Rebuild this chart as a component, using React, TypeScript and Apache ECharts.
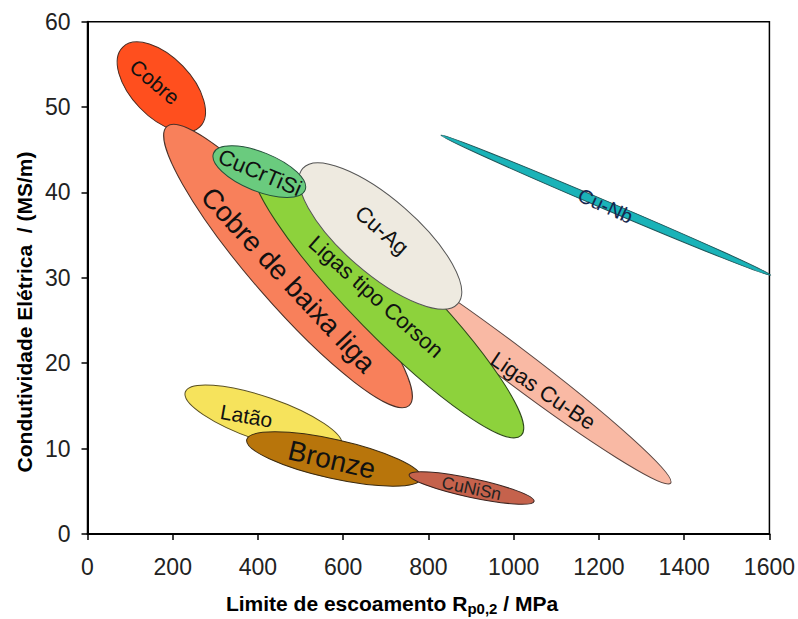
import React, { useEffect, useRef } from 'react';
import * as echarts from 'echarts';

const FONT = "'Liberation Sans', Arial, Helvetica, sans-serif";

// Material families, listed from the one drawn at the bottom to the one drawn on top
const materials = [
  'Ligas Cu-Be',
  'Cobre',
  'Cobre de baixa liga',
  'Ligas tipo Corson',
  'Cu-Ag',
  'CuCrTiSi',
  'Latão',
  'Bronze',
  'CuNiSn',
  'Cu-Nb',
];

// Ends of each ellipse's long axis: yield strength (MPa) and conductivity (MS/m)
const strengthStart = [620.6, 82.9, 186.3, 394.0, 505.2, 295.7, 229.4, 373.6, 754.7, 829.1];
const conductStart = [34.16, 57.03, 47.74, 43.28, 42.82, 44.6, 16.63, 11.06, 6.95, 46.73];
const strengthEnd = [1368.3, 263.6, 754.7, 1017.6, 868.9, 510.6, 596.9, 782.8, 1047.8, 1603];
const conductEnd = [5.97, 47.68, 15.04, 11.54, 26.98, 40.27, 10.31, 6.51, 3.83, 30.3];
// Short axis / long axis
const widthRatio = [0.088, 0.54, 0.2, 0.189, 0.36, 0.394, 0.265, 0.218, 0.148, 0.023];

// Where each label sits (data space)
const labelStrength = [1069.1, 158.0, 471.2, 677.0, 690.8, 405.0, 372.7, 573.5, 901.2, 1215.4];
const labelConduct = [16.77, 52.95, 29.75, 27.79, 35.58, 42.33, 13.84, 8.69, 5.35, 38.44];

// Axis ticks
const xTickLabels = ['0', '200', '400', '600', '800', '1000', '1200', '1400', '1600'];
const yTickLabels = ['0', '10', '20', '30', '40', '50', '60'];

// Styles
const fillColors = [
  '#F9B9A4', '#FF4F1E', '#F8805B', '#8DD23C', '#EEEAE0',
  '#6ACB7E', '#F6E35C', '#B8750B', '#C5624C', '#1AB3B8',
];
const strokeColors = [
  '#5a4540', '#4a2a20', '#4a3028', '#2e4a1a', '#555555',
  '#24503a', '#5a5020', '#3a2a10', '#3a2420', '#1f5558',
];
const labelFontSize = [22, 21, 28, 22, 22, 22, 21, 28, 17.5, 20];
const labelRotationDeg = [34, 40, 47, 41.5, 41, 23, 10, 13, 11.7, 24.5];
const labelColors = ['#111', '#111', '#111', '#111', '#111', '#111', '#111', '#111', '#222', '#16264f'];

const xMin = Number(xTickLabels[0]);
const xMax = Number(xTickLabels[xTickLabels.length - 1]);
const xStep = Number(xTickLabels[1]) - xMin;
const yMin = Number(yTickLabels[0]);
const yMax = Number(yTickLabels[yTickLabels.length - 1]);
const yStep = Number(yTickLabels[1]) - yMin;

export default function App() {
  const ref = useRef<HTMLDivElement>(null);

  useEffect(() => {
    if (!ref.current) return;
    const chart = echarts.init(ref.current, undefined, { renderer: 'svg' });

    const ellipseData = materials.map((_, i) => [
      strengthStart[i], conductStart[i], strengthEnd[i], conductEnd[i], widthRatio[i],
    ]);
    const labelData = materials.map((_, i) => [labelStrength[i], labelConduct[i]]);

    const option: any = {
      animation: false,
      backgroundColor: '#ffffff',
      grid: {
        left: 87.5,
        right: 27,
        top: 21.7,
        bottom: 85,
        show: true,
        borderColor: '#000',
        borderWidth: 1.5,
        backgroundColor: 'transparent',
      },
      xAxis: {
        type: 'value',
        min: xMin,
        max: xMax,
        interval: xStep,
        axisLine: { show: true, onZero: false, lineStyle: { color: '#000', width: 2 } },
        axisTick: { show: true, inside: false, length: 6, lineStyle: { color: '#000', width: 1.5 } },
        axisLabel: {
          fontSize: 23,
          color: '#222',
          fontFamily: FONT,
          margin: 21,
          formatter: (v: number) => xTickLabels.find((t) => Number(t) === v) ?? String(v),
        },
        splitLine: { show: false },
      },
      yAxis: {
        type: 'value',
        min: yMin,
        max: yMax,
        interval: yStep,
        axisLine: { show: true, onZero: false, lineStyle: { color: '#000', width: 2 } },
        axisTick: { show: true, inside: false, length: 6, lineStyle: { color: '#000', width: 1.5 } },
        axisLabel: {
          fontSize: 23,
          color: '#222',
          fontFamily: FONT,
          margin: 17,
          formatter: (v: number) => yTickLabels.find((t) => Number(t) === v) ?? String(v),
        },
        splitLine: { show: false },
      },
      graphic: [
        {
          type: 'text',
          x: 392,
          y: 603,
          style: {
            text: '{m|Limite de escoamento R}{s|p0,2}{m| / MPa}',
            align: 'center',
            verticalAlign: 'middle',
            textAlign: 'center',
            textVerticalAlign: 'middle',
            fill: '#000',
            rich: {
              m: { fontSize: 21, fontWeight: 'bold', fontFamily: FONT, lineHeight: 26, fill: '#000', color: '#000', verticalAlign: 'middle' },
              s: { fontSize: 15, fontWeight: 'bold', fontFamily: FONT, lineHeight: 12, fill: '#000', color: '#000', verticalAlign: 'bottom' },
            },
          },
        },
        {
          type: 'text',
          x: 24,
          y: 312,
          rotation: Math.PI / 2,
          style: {
            text: 'Condutividade Elétrica  / (MS/m)',
            fontSize: 21,
            fontWeight: 'bold',
            fontFamily: FONT,
            fill: '#000',
            align: 'center',
            verticalAlign: 'middle',
            textAlign: 'center',
            textVerticalAlign: 'middle',
          },
        },
      ],
      series: [
        {
          type: 'custom',
          coordinateSystem: 'cartesian2d',
          silent: true,
          clip: false,
          z: 2,
          encode: { x: [0, 2], y: [1, 3] },
          data: ellipseData,
          renderItem: (params: any, api: any) => {
            const i = params.dataIndex;
            const p1 = api.coord([api.value(0), api.value(1)]);
            const p2 = api.coord([api.value(2), api.value(3)]);
            const cx = (p1[0] + p2[0]) / 2;
            const cy = (p1[1] + p2[1]) / 2;
            const a = Math.hypot(p2[0] - p1[0], p2[1] - p1[1]) / 2;
            const b = a * api.value(4);
            const ang = Math.atan2(p2[1] - p1[1], p2[0] - p1[0]);
            return {
              type: 'ellipse',
              x: cx,
              y: cy,
              rotation: -ang,
              shape: { cx: 0, cy: 0, rx: a, ry: b },
              style: { fill: fillColors[i], stroke: strokeColors[i], lineWidth: 1 },
            };
          },
        },
        {
          type: 'custom',
          coordinateSystem: 'cartesian2d',
          silent: true,
          clip: false,
          z: 3,
          encode: { x: 0, y: 1 },
          data: labelData,
          renderItem: (params: any, api: any) => {
            const i = params.dataIndex;
            const p = api.coord([api.value(0), api.value(1)]);
            return {
              type: 'text',
              x: p[0],
              y: p[1],
              rotation: (-labelRotationDeg[i] * Math.PI) / 180,
              style: {
                text: materials[i],
                fontSize: labelFontSize[i],
                fontFamily: FONT,
                fill: labelColors[i],
                align: 'center',
                verticalAlign: 'middle',
                textAlign: 'center',
                textVerticalAlign: 'middle',
              },
            };
          },
        },
      ],
    };

    chart.setOption(option);
    return () => {
      chart.dispose();
    };
  }, []);

  return (
    <div
      ref={ref}
      style={{ position: 'fixed', left: 0, top: 0, width: 798, height: 619, background: '#fff' }}
    />
  );
}
